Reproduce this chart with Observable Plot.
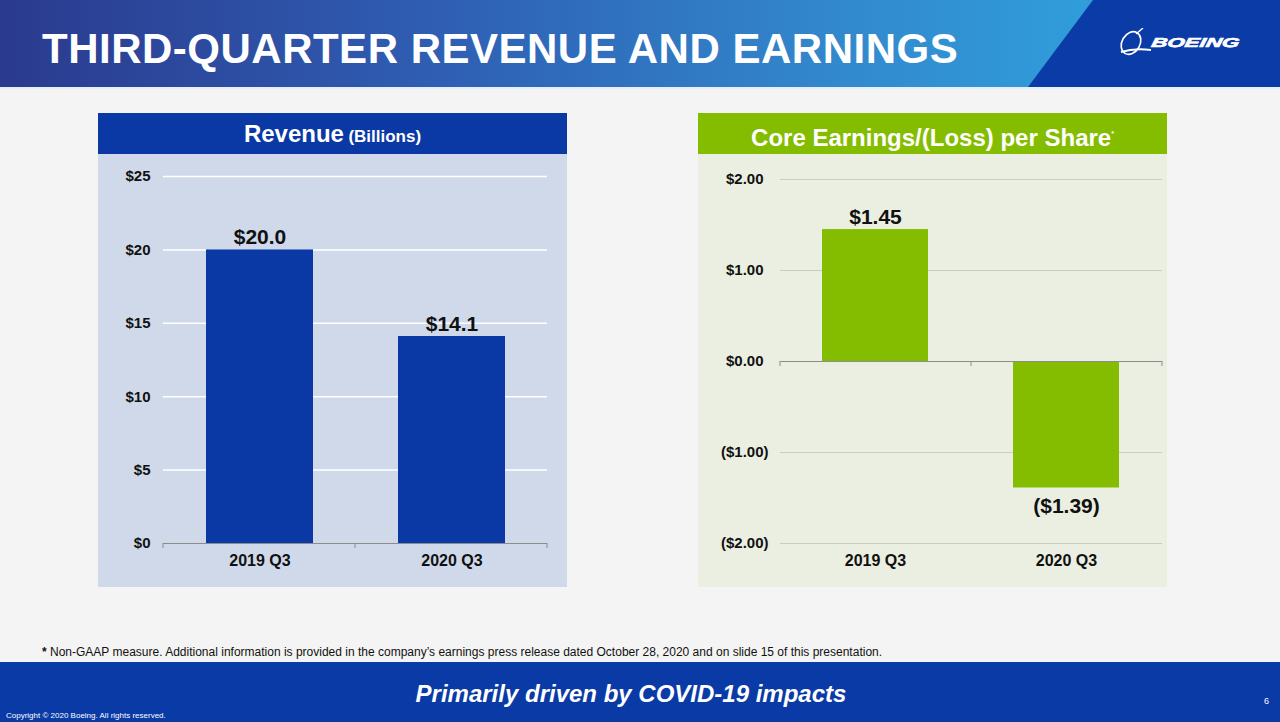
<!DOCTYPE html>
<html><head><meta charset="utf-8">
<script src="https://cdn.jsdelivr.net/npm/d3@7"></script>
<script src="https://cdn.jsdelivr.net/npm/@observablehq/plot@0.6"></script>
<style>
html,body{margin:0;padding:0}
body{width:1280px;height:722px;overflow:hidden;background:#f4f4f4;font-family:"Liberation Sans",Arial,sans-serif;position:relative}
.abs{position:absolute}
#header{left:0;top:0;width:1280px;height:87px;background:linear-gradient(90deg,#2a3a8e 0%,#2f5fb4 35%,#3288cc 65%,#30a2de 90%)}
#slant{left:0;top:0;width:1280px;height:87px;background:#0a3ba6;clip-path:polygon(1093px 0,1280px 0,1280px 87px,1028px 87px)}
#hline{left:0;top:87px;width:1280px;height:2px;background:#e6eef6}
#title{left:42px;top:25px;color:#fff;font-weight:bold;font-size:42px;white-space:nowrap;letter-spacing:0.5px}
#logo{left:1116px;top:28px;width:130px;height:32px}
.panel{top:113px;width:469px;height:474px}
.ptitle{left:0;top:0;width:469px;height:41px;color:#fff;font-weight:bold;text-align:center;line-height:41px;white-space:nowrap}
#note{left:42px;top:645px;font-size:12px;color:#111;white-space:nowrap}
#footer{left:0;top:662px;width:1280px;height:60px;background:#0a3aa5}
#tag{left:0;top:680px;width:1262px;text-align:center;color:#fff;font-weight:bold;font-style:italic;font-size:24px}
#copy{left:6px;top:711px;color:#fff;font-size:8px}
#page{left:1264px;top:696px;color:#fff;font-size:9px}
</style></head><body>
<div id="header" class="abs"></div>
<div id="slant" class="abs"></div>
<div id="hline" class="abs"></div>
<div id="title" class="abs">THIRD-QUARTER REVENUE AND EARNINGS</div>
<svg id="logo" class="abs" viewBox="0 0 130 32">
  <ellipse cx="15" cy="15" rx="9" ry="12" transform="rotate(30 15 15)" fill="none" stroke="#fff" stroke-width="1.6"/>
  <path d="M5 24 Q18 20 35 22" fill="none" stroke="#fff" stroke-width="2"/>
  <path d="M20 6 L27 0" fill="none" stroke="#fff" stroke-width="1.4"/>
  <text x="38" y="19" fill="#fff" font-family="Liberation Sans, Arial, sans-serif" font-weight="bold" font-style="italic" font-size="13" textLength="88" lengthAdjust="spacingAndGlyphs" transform="skewX(-10)" stroke="#fff" stroke-width="0.6">BOEING</text>
</svg>

<div id="left" class="abs panel" style="left:98px;background:#cfd9ea">
  <div class="abs ptitle" style="background:#0a39a5"><span style="font-size:24px">Revenue</span> <span style="font-size:17px">(Billions)</span></div>
  <div id="leftchart" class="abs" style="left:0;top:42px"></div>
</div>
<div id="right" class="abs panel" style="left:698px;background:#ebefe1">
  <div class="abs ptitle" style="background:#84bd00"><span style="font-size:24px">Core Earnings/(Loss) per Share</span><sup style="font-size:7px;vertical-align:10px">*</sup></div>
  <div id="rightchart" class="abs" style="left:0;top:42px"></div>
</div>

<div id="note" class="abs"><b>*</b> Non-GAAP measure. Additional information is provided in the company’s earnings press release dated October 28, 2020 and on slide 15 of this presentation.</div>
<div id="footer" class="abs"></div>
<div id="tag" class="abs">Primarily driven by COVID-19 impacts</div>
<div id="copy" class="abs">Copyright © 2020 Boeing. All rights reserved.</div>
<div id="page" class="abs">6</div>

<script>
const quarters = ["2019 Q3", "2020 Q3"];
const revenue = [20.0, 14.1];
const coreEps = [1.45, -1.39];
const revenueTicks = [0, 5, 10, 15, 20, 25];
const epsTicks = [-2, -1, 0, 1, 2];

const revData = quarters.map((q, i) => ({q, v: revenue[i]}));
const epsData = quarters.map((q, i) => ({q, v: coreEps[i]}));

const FONT = '"Liberation Sans", Arial, sans-serif';

// small tick marks at the category boundaries on the zero line
function boundaryTicks(color) {
  return (index, scales, values, dims) => {
    const n = quarters.length;
    const x0 = dims.marginLeft, x1 = dims.width - dims.marginRight;
    const y = scales.y(0);
    const g = d3.create("svg:g");
    d3.range(n + 1).forEach(i => {
      const x = x0 + i * (x1 - x0) / n;
      g.append("line").attr("x1", x).attr("x2", x).attr("y1", y).attr("y2", y + 5)
        .attr("stroke", color).attr("stroke-width", 1);
    });
    return g.node();
  };
}

const fmtEps = d => d < 0 ? "($" + (-d).toFixed(2) + ")" : "$" + d.toFixed(2);
const fmtEpsTick = d => d < 0 ? fmtEps(d) : fmtEps(d) + "\u2004";

const axisStyle = {background: "transparent", fontFamily: FONT, fontSize: "15px", fontWeight: "bold", color: "#111"};

const leftChart = Plot.plot({
  width: 469, height: 432,
  marginLeft: 65, marginRight: 20, marginTop: 21, marginBottom: 44,
  style: axisStyle,
  x: {domain: quarters, paddingInner: 0.443, paddingOuter: 0.2215, label: null, axis: null},
  y: {domain: [0, 25], ticks: revenueTicks, tickFormat: d => "$" + d, label: null, tickSize: 0, tickPadding: 13},
  marks: [
    Plot.ruleY(revenueTicks.filter(d => d > 0), {stroke: "#ffffff", strokeWidth: 1.5}),
    Plot.barY(revData, {x: "q", y: "v", fill: "#0a39a5"}),
    Plot.ruleY([0], {stroke: "#8c8c8c"}),
    boundaryTicks("#8c8c8c"),
    Plot.axisX({tickSize: 0, tickPadding: 11, fontSize: 16, label: null}),
    Plot.text(revData, {x: "q", y: "v", text: d => "$" + d.v.toFixed(1), lineAnchor: "bottom", dy: -6, fontSize: 21, fontWeight: "bold", fill: "#111"})
  ]
});
document.getElementById("leftchart").appendChild(leftChart);

const rightChart = Plot.plot({
  width: 469, height: 432,
  marginLeft: 82, marginRight: 5, marginTop: 24, marginBottom: 44,
  style: axisStyle,
  x: {domain: quarters, paddingInner: 0.443, paddingOuter: 0.2215, label: null, axis: null},
  y: {domain: [-2, 2], ticks: epsTicks, tickFormat: fmtEpsTick, label: null, tickSize: 0, tickPadding: 12},
  marks: [
    Plot.ruleY(epsTicks.filter(d => d !== 0), {stroke: "#c9ccc4", strokeWidth: 1.2}),
    Plot.barY(epsData, {x: "q", y: "v", fill: "#84bd00"}),
    Plot.ruleY([0], {stroke: "#8c8c8c"}),
    boundaryTicks("#8c8c8c"),
    Plot.axisX({tickSize: 0, tickPadding: 11, fontSize: 16, label: null}),
    Plot.text(epsData, {x: "q", y: "v", text: d => fmtEps(d.v), lineAnchor: "bottom", dy: -6, fontSize: 21, fontWeight: "bold", fill: "#111", filter: d => d.v >= 0}),
    Plot.text(epsData, {x: "q", y: "v", text: d => fmtEps(d.v), lineAnchor: "top", dy: 10, fontSize: 21, fontWeight: "bold", fill: "#111", filter: d => d.v < 0})
  ]
});
document.getElementById("rightchart").appendChild(rightChart);
</script>
</body></html>
